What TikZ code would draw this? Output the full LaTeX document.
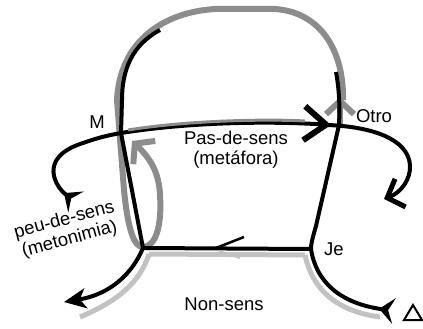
\documentclass[tikz,border=0pt]{standalone}
\usepackage{fontspec}
\setmainfont{Liberation Sans}
\usetikzlibrary{arrows.meta}
\definecolor{screen}{gray}{0.55}
\definecolor{shadow}{gray}{0.76}

\begin{document}
\begin{tikzpicture}[x=1pt, y=-1pt, font=\fontsize{18.5}{20}\selectfont,
    bold/.style={line width=4pt},
    screened/.style={screen, line width=6pt},
    shaded/.style={shadow, line width=5pt},
    fork/.tip={Stealth[reversed,length=15pt,width=26pt,inset=6pt]}]
  \useasboundingbox (0,0) rectangle (423,329);

  \coordinate (M) at (121,133);
  \coordinate (Otro) at (339,125);
  \coordinate (Je) at (311,249);
  \coordinate (base) at (143,248);

  % light shadows under the lower lines
  \draw[shaded] (305,255) -- (149,254);
  \draw[shaded] (149,254) .. controls (140,283) and (116,302) .. (80,317);
  \draw[shaded] (305,255) .. controls (312,288) and (335,311) .. (380,317);

  % the screened arch and its loop
  \draw[screened, -{Straight Barb[length=13pt,width=28pt]}] (340,124) -- (340,97);
  \draw[screened, -{Straight Barb[length=13pt,width=32pt]}]
    (343,100) .. controls (344,50) and (320,12) .. (275,9)
    -- (215,9) .. controls (165,12) and (120,40) .. (117,100)
    -- (124,190) .. controls (128,230) and (134,247) .. (143,247)
    .. controls (156,247) and (162,225) .. (160,195)
    .. controls (159,172) and (150,158) .. (132,141);

  % black lines
  \draw[bold] (160,30) .. controls (132,45) and (122,70) .. (122,100) -- (M) -- (base);
  \draw[bold] (336,72) .. controls (339,88) and (340,105) .. (Otro)
    -- (316,226) .. controls (312,240) and (311,244) .. (Je);
  \draw[bold] (Je) -- (base);
  \draw[line width=2.5pt] (216,248) -- (244,237);
  \draw[shadow, line width=2pt] (219,251) -- (240,258);

  \draw[bold, {fork}-{Straight Barb[length=22pt,width=34pt,line width=6pt]}]
    (76,202) .. controls (57,188) and (36,158) .. (83,143)
    .. controls (100,137) and (110,135) .. (M)
    .. controls (190,122) and (270,121) .. (331,125);
  \draw[screen, line width=3pt, transform canvas={yshift=2pt}]
    (128,132) .. controls (190,122) and (270,121) .. (305,123);
  \draw[bold, -{Straight Barb[length=14pt,width=30pt,line width=5pt]}]
    (328,125) .. controls (375,127) and (408,140) .. (410,165)
    .. controls (411,180) and (400,193) .. (384,199);

  \draw[bold, -{Stealth[length=22pt,width=20pt,inset=6pt]}]
    (base) .. controls (133,272) and (112,294) .. (64,302);
  \draw[bold, -{fork}]
    (Je) .. controls (316,282) and (340,303) .. (394,311);
  \draw[line width=2pt] (404,320) -- (413,305) -- (422,320) -- cycle;

  \node (lM) at (97,122) {M};
  \node (lOtro) at (374,116) {Otro};
  \node (lJe) at (334,249) {Je};
  \node[align=center] (pas) at (236,150) {Pas-de-sens\\(metáfora)};
  \node[align=center, rotate=15] (peu) at (67,230) {peu-de-sens\\(metonimia)};
  \node (non) at (224,304) {Non-sens};
\end{tikzpicture}
\end{document}
